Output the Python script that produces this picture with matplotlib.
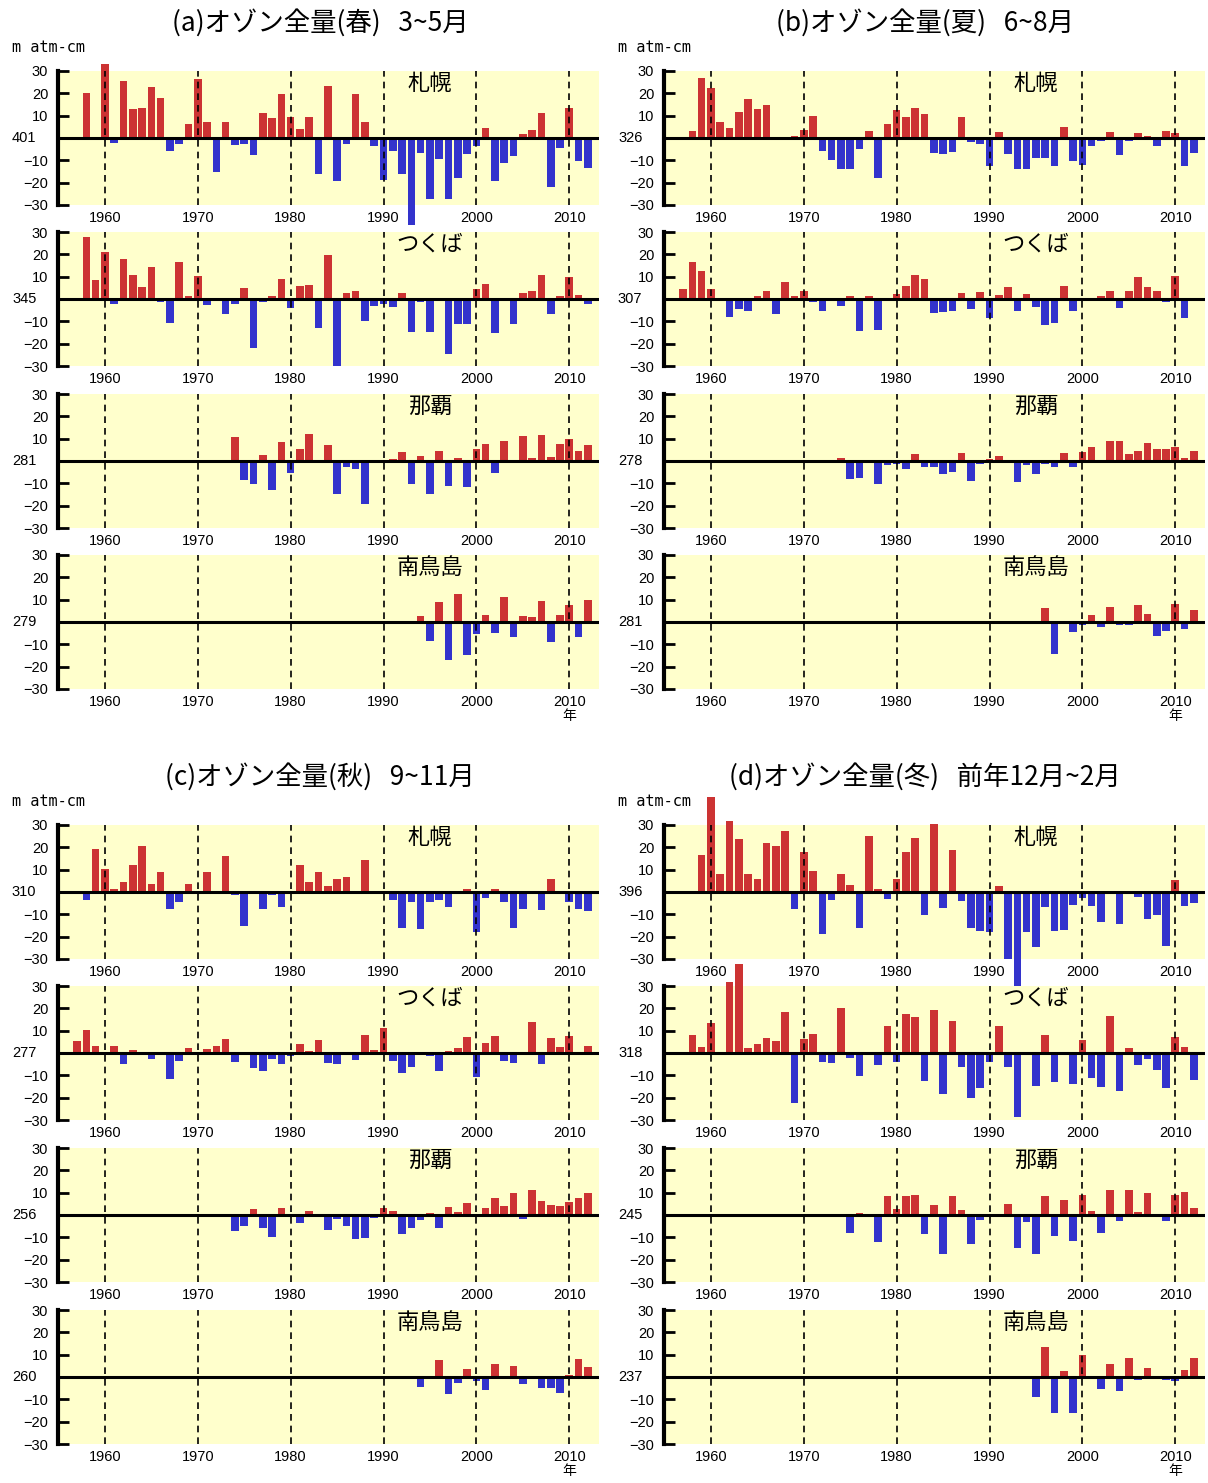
import numpy as np
import matplotlib
matplotlib.use('Agg')
import matplotlib.pyplot as plt
import matplotlib.transforms as mtrans

plt.rcParams['font.family'] = ['Noto Sans CJK JP', 'DejaVu Sans']
NUM_FONT = ['Liberation Sans Narrow', 'Liberation Sans', 'DejaVu Sans']

# ---- data (anomalies, m atm-cm) ----
stations = ['札幌', 'つくば', '那覇', '南鳥島']
nan = np.nan

# (a) spring 3-5
spr_sapporo_start = 1958
spr_sapporo = [20, nan, 33, -2.2, 25.3, 12.8, 13.4, 23, 18, -6,
               -2.8, 6.1, 26.5, 7.3, -15.2, 7, -3.1, -2.7, -7.4, 11.4,
               8.9, 19.9, 9.4, 4, 9.4, -15.9, 23.3, -19.3, -2.8, 19.5,
               7.3, -3.6, -18.9, -5.9, -16.3, -39, -6.8, -27.2, -9.2, -27.2,
               -18.1, -7.3, -3.7, 4.6, -19.2, -11.4, -8, 1.6, 3.7, 11.4,
               -22, -4.5, 13.4, -10.3, -13.4]
spr_tsukuba_start = 1958
spr_tsukuba = [27.6, 8.5, 21.2, -2.2, 17.8, 10.8, 5.3, 14.3, -1.3, -10.7,
               16.5, 1.5, 10.5, -2.7, -0.9, -6.8, -2.1, 4.9, -21.8, -1.5,
               1.3, 9.1, -4, 5.8, 6.2, -12.8, 19.5, -30, 2.8, 3.7,
               -9.7, -3.3, -2.2, -3.6, 2.5, -14.7, -1.3, -15, -0.9, -24.7,
               -11.1, -11.1, 4.3, 6.8, -15.2, -0.9, -11.1, 2.8, 3.7, 10.8,
               -6.7, 1.5, 9.8, 1.8, -2.1]
spr_naha_start = 1974
spr_naha = [10.9, -8.7, -10.1, 2.5, -13, 8.7, -5.5, 5.5, 11.9, nan,
            7.3, -14.6, -2.7, -3.6, -19.3, nan, nan, 1, 4, -10.1,
            2.2, -14.6, 4.3, -11.3, 1.5, -11.5, 5.5, 7.8, -5.2, 8.8,
            -0.5, 11, 1.3, 11.6, 2, 7.5, 9.7, 4.3, 7.3]
spr_minami_start = 1994
spr_minami = [2.8, -8.4, 8.8, -16.9, 12.4, -14.8, -5.5, 3.3, -4.8, 11.3,
              -6.7, 2.8, 2.2, 9.6, -9, 3.3, 7.5, -6.7, 9.7]

# (b) summer 6-8
sum_sapporo_start = 1958
sum_sapporo = [3, 26.8, 22.3, 7.1, 4.3, 11.6, 17.3, 12.9, 14.6, nan,
               0.2, 0.9, 3.7, 9.7, -6, -9.8, -13.7, -14.1, -4.9, 3,
               -17.9, 6.3, 12.6, 9.2, 13.4, 10.9, -6.7, -7, -6.4, 9.2,
               -1.8, -2.5, -12.4, 2.7, -7, -13.7, -13.7, -8.8, -8.9, -12.4,
               5.1, -10.1, -11.9, -3.4, -1.5, 2.7, -7.7, -1.5, 2.2, 1,
               -3.4, 3.1, 2.2, -12.5, -6.7]
sum_tsukuba_start = 1957
sum_tsukuba = [4.6, 16.7, 12.4, 4.6, nan, -8, -4.5, -5.4, 1.2, 3.4,
               -6.7, 7.7, 1.2, 3.4, -1.5, -5.4, -1, -3, 1.2, -14.3,
               1.3, -13.8, nan, 2.4, 5.8, 10.6, 8.9, -6.4, -5.8, -5.2,
               2.8, -4.6, 3.1, -8.5, 1.6, 5.5, -5.2, 2.2, -3.6, -11.8,
               -10.6, 6, -5.4, -1, nan, 1.2, 3.4, -4.2, 3.7, 9.7,
               5.5, 3.7, -1.5, 10.1, -8.6, -1]
sum_naha_start = 1974
sum_naha = [1.2, -8.1, -7.5, nan, -10.3, -1.8, -1.2, -3.6, 3, -2.5,
            -2.5, -6, -4.9, 3.7, -9.1, -1.2, 0.9, 2.1, 0.4, -9.4,
            -1.8, -5.8, -1.3, -2.5, 3.7, -2.8, 4, 6.1, 0.4, 9.1,
            9.1, 3.3, 4.6, 8.2, 5.4, 5.5, 6.1, 1.2, 4.5]
sum_minami_start = 1994
sum_minami = [-0.9, nan, 6.4, -14.5, nan, -4.3, -1.3, 3.1, -2.4, 6.6,
              -1.5, -1.5, 7.6, 3.6, -6.3, -3.9, 7.9, -3.3, 5.2]

# (c) autumn 9-11
aut_sapporo_start = 1958
aut_sapporo = [-3.6, 19.2, 10.3, 1.3, 4.3, 12, 20.5, 3.4, 9.1, -7.4,
               -4.3, 3.7, nan, 9.1, 0.6, 16.1, -1.2, -15.2, 0.6, -7.7,
               -1.5, -6.5, nan, 12, 4.6, 9.1, 2.7, 6, 6.7, nan,
               14.3, nan, 0.6, -3.7, -15.9, -4.6, -16.4, -4.6, -3.6, -6.7,
               -0.3, 1.5, -17.7, -2.7, 1.5, -4.3, -16.2, -7.7, nan, -8,
               5.7, 0.6, -4.3, -7.4, -8.5]
aut_tsukuba_start = 1957
aut_tsukuba = [5.4, 10.1, 3.3, nan, 3.3, -5.1, 1.2, -1, -2.7, -1,
               -11.6, -3.4, 2.1, -0.7, 1.8, 3.3, 6.1, -4.2, 0.2, -6.8,
               -8, -2.7, -4.9, -1.5, 4, 0.9, 5.8, -4.5, -4.9, -1,
               -3, 8.2, 1.2, 11.2, -3.4, -8.9, -6.1, nan, -1.3, -8.2,
               0.9, 2.1, 7.1, -10.7, 4.3, 7.4, -3.4, -4.6, -1, 14,
               -5.1, 6.5, 2.7, 7.6, -1, 3.3]
aut_naha_start = 1974
aut_naha = [-7.2, -4.9, 2.8, -5.8, -9.7, 3.2, nan, -3.4, 1.8, -1,
            -6.9, -1.8, -4.9, -10.9, -10.2, -1.5, 3.2, 1.8, -8.3, -5.9,
            -2.4, 0.9, -5.8, 3.8, 1.3, 5.3, nan, 3, 7.5, 4.1,
            9.7, -1.9, 11.4, 6.2, 4.4, 4.1, 5.8, 7.4, 9.9]
aut_minami_start = 1994
aut_minami = [-4.6, nan, 7.6, -7.4, -2.8, 3.7, -1.8, -5.6, 5.9, -0.9,
              4.9, -3.1, nan, -5, -5, -7, 0.7, 8, 4.7]

# (d) winter Dec-Feb
win_sapporo_start = 1959
win_sapporo = [16.6, 42.4, 8.2, 31.6, 23.9, 7.9, 5.9, 22.1, 20.5, 27.4,
               -7.6, 17.8, 9.5, -19, -3.6, 8.2, 3, -16.3, 24.9, 1.5,
               -3, 5.9, 17.8, 24.3, -10.2, 30.3, -7, 19, -3.9, -15.9,
               -17.4, -18.1, 2.7, -29.8, -42, -17.8, -24.5, -6.7, -17.4, -16.9,
               -5.8, -2.8, -6.2, -13.5, nan, -14.5, nan, -2.1, -12.2, -10.4,
               -24, 5.2, -6.2, -5]
win_tsukuba_start = 1958
win_tsukuba = [7.9, 2.8, 13.6, nan, 32, 40, 2.4, 3.9, 6.8, 5.2,
               18.5, -22.4, 6.2, 8.6, -4.1, -4.3, 20.3, -2.2, -10.1, nan,
               -5.3, 12.3, -4.1, 17.6, 16.3, -12.4, 19.4, -18.4, 14.4, -6.1,
               -20.3, -15.7, -4.1, 12.1, -6.2, -28.7, -0.9, -14.7, 8, -13,
               nan, -14.1, 5.6, -11.3, -15, 16.7, -16.9, 2.4, -5.2, -2.8,
               -7.4, -15.7, 7, 2.8, -11.9]
win_naha_start = 1975
win_naha = [-8.1, 0.7, nan, -12, 8.3, 2.7, 8.7, 9, -8.7, 4.4,
            -17.3, 8.7, 2.2, -13, -2.2, nan, nan, 5, -14.7, -3.2,
            -17.3, 8.3, -9.4, 6.8, -11.7, 8.8, 1.8, -8.1, 11.4, -2.7,
            11.1, 1.3, 9.9, nan, -2.7, 9, 10.3, 3]
win_minami_start = 1995
win_minami = [-9, 13.6, -16.3, 2.5, -16, 9.8, nan, -5.3, 5.6, -6.4,
              8.7, -1.2, 4.1, nan, -1.2, -1.8, 3.3, 8.4]

# climatological base values shown at the zero line
spr_base = ['401', '345', '281', '279']
sum_base = ['326', '307', '278', '281']
aut_base = ['310', '277', '256', '260']
win_base = ['396', '318', '245', '237']

titles = ['(a)オゾン全量(春)   3~5月', '(b)オゾン全量(夏)   6~8月',
          '(c)オゾン全量(秋)   9~11月', '(d)オゾン全量(冬)   前年12月~2月']

# ---- layout ----
W, H = 1208, 1483
RED = '#cc3333'
BLUE = '#3333cc'
YELLOW = '#ffffcc'

panels = [
    (titles[0], spr_base, [(spr_sapporo_start, spr_sapporo), (spr_tsukuba_start, spr_tsukuba),
                           (spr_naha_start, spr_naha), (spr_minami_start, spr_minami)]),
    (titles[1], sum_base, [(sum_sapporo_start, sum_sapporo), (sum_tsukuba_start, sum_tsukuba),
                           (sum_naha_start, sum_naha), (sum_minami_start, sum_minami)]),
    (titles[2], aut_base, [(aut_sapporo_start, aut_sapporo), (aut_tsukuba_start, aut_tsukuba),
                           (aut_naha_start, aut_naha), (aut_minami_start, aut_minami)]),
    (titles[3], win_base, [(win_sapporo_start, win_sapporo), (win_tsukuba_start, win_tsukuba),
                           (win_naha_start, win_naha), (win_minami_start, win_minami)]),
]

col_left = [58, 664]
col_width = 541
title_x = [320, 925]
title_y = [23, 777]
unit_y = [48, 802]
row_tops = [[71, 232, 394, 555], [825, 986, 1148, 1310]]
ax_h = 134

fig = plt.figure(figsize=(W / 100, H / 100), dpi=100)

for p, (title, bases, series) in enumerate(panels):
    c = p % 2
    r = p // 2
    left = col_left[c]
    fig.text(title_x[c] / W, 1 - title_y[r] / H, title, ha='center', va='center', fontsize=19)
    fig.text((left - 46) / W, 1 - unit_y[r] / H, 'm atm-cm', ha='left', va='center',
             fontsize=11, family='DejaVu Sans Mono')

    for k, (start, vals) in enumerate(series):
        top = row_tops[r][k]
        ax = fig.add_axes([left / W, 1 - (top + ax_h) / H, col_width / W, ax_h / H])
        ax.set_facecolor(YELLOW)
        ax.set_xlim(1954.95, 2013.2)
        ax.set_ylim(-30, 30)

        v = np.array(vals, dtype=float)
        yrs = np.arange(start, start + len(v))
        ok = ~np.isnan(v)
        cols = np.where(v[ok] >= 0, RED, BLUE)
        ax.bar(yrs[ok], v[ok], width=0.82, color=cols, edgecolor='none',
               clip_on=False, zorder=2)

        for yr in range(1960, 2011, 10):
            ax.plot([yr, yr], [-30, 30], color='black', lw=1.2,
                    ls=(0, (4, 3)), zorder=3)
        ax.axhline(0, color='black', lw=2.2, zorder=4)

        for s in ['top', 'right', 'bottom']:
            ax.spines[s].set_visible(False)
        ax.spines['left'].set_linewidth(3)

        ax.set_yticks([-30, -20, -10, 10, 20, 30])
        ax.set_yticklabels(['\u221230', '\u221220', '\u221210', '10', '20', '30'],
                           family=NUM_FONT, fontsize=10.5)
        ax.tick_params(axis='y', direction='in', length=8, width=2, pad=7)
        ax.set_xticks(range(1960, 2011, 10))
        ax.set_xticklabels([str(y) for y in range(1960, 2011, 10)],
                           family=NUM_FONT, fontsize=10.5)
        ax.tick_params(axis='x', length=0, pad=4)

        tr = mtrans.blended_transform_factory(ax.transAxes, ax.transData)
        ax.text(-0.04, 0, bases[k], transform=tr, ha='right', va='center',
                family=NUM_FONT, fontsize=10.5)
        ax.text(1995, 24.5, stations[k], ha='center', va='center', fontsize=16, zorder=5)
        if k == 3:
            ax.text(2010, -42.3, '年', ha='center', va='center', fontsize=10, clip_on=False)

fig.savefig('out.png', dpi=100)
